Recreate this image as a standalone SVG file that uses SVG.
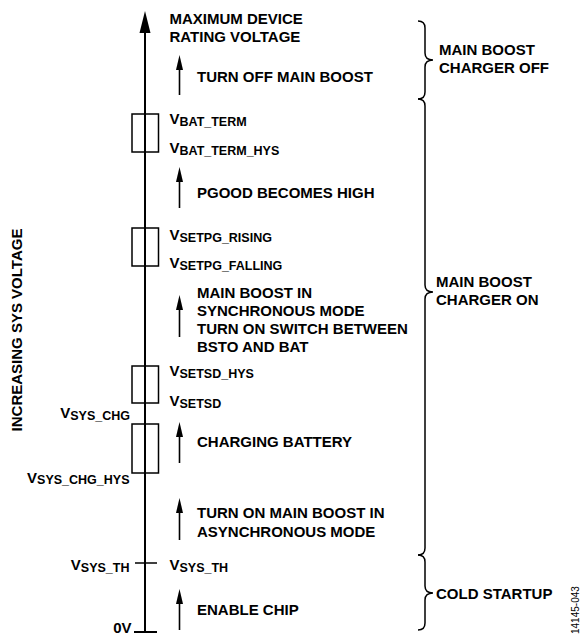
<svg xmlns="http://www.w3.org/2000/svg" width="582" height="636" viewBox="0 0 582 636">
<style>
text{font-family:"Liberation Sans",Arial,sans-serif;font-weight:bold;font-size:15px;fill:#000}
.s{font-size:12.5px}
.ax{stroke:#000;stroke-width:2;fill:none}
.ar{stroke:#000;stroke-width:1.6;fill:none}
.bx{stroke:#000;stroke-width:1.5;fill:none}
.br{stroke:#000;stroke-width:1.5;fill:none}
.id{font-weight:normal;font-size:10px}
</style>
<g id="axis">
<line class="ax" x1="145" y1="632" x2="145" y2="30"/>
<polygon points="145,11 139.5,33 150.5,33" fill="#000"/>
<line class="ax" x1="134" y1="632" x2="157" y2="632"/>
<line class="bx" x1="135" y1="563" x2="157" y2="563"/>
<text x="22" y="330" transform="rotate(-90 22 330)" text-anchor="middle">INCREASING SYS VOLTAGE</text>
</g>
<g id="hysteresis-boxes">
<rect class="bx" x="132" y="114" width="26.5" height="38"/>
<rect class="bx" x="132" y="228" width="26.5" height="38"/>
<rect class="bx" x="132" y="366" width="26.5" height="37"/>
<rect class="bx" x="132" y="424" width="26.5" height="49"/>
</g>
<g id="connectors">
<g id="arr1"><line class="ar" x1="179.5" y1="95" x2="179.5" y2="66"/><polygon points="179.5,55 176,70 183,70"/></g>
<g id="arr2"><line class="ar" x1="179.5" y1="208" x2="179.5" y2="178"/><polygon points="179.5,167 176,182 183,182"/></g>
<g id="arr3"><line class="ar" x1="179.5" y1="337" x2="179.5" y2="306"/><polygon points="179.5,295 176,310 183,310"/></g>
<g id="arr4"><line class="ar" x1="179.5" y1="463" x2="179.5" y2="433"/><polygon points="179.5,422 176,437 183,437"/></g>
<g id="arr5"><line class="ar" x1="179.5" y1="540" x2="179.5" y2="509"/><polygon points="179.5,498 176,513 183,513"/></g>
<g id="arr6"><line class="ar" x1="179.5" y1="630" x2="179.5" y2="600"/><polygon points="179.5,589 176,604 183,604"/></g>
</g>
<g id="labels-right">
<text x="169.5" y="24.3">MAXIMUM DEVICE</text>
<text x="169.5" y="42.3">RATING VOLTAGE</text>
<text x="197" y="82.3">TURN OFF MAIN BOOST</text>
<text x="169.5" y="124.3">V<tspan class="s" dy="1.5">BAT_TERM</tspan></text>
<text x="169.5" y="153.3">V<tspan class="s" dy="1.5">BAT_TERM_HYS</tspan></text>
<text x="197" y="197.5">PGOOD BECOMES HIGH</text>
<text x="169.5" y="240">V<tspan class="s" dy="1.5">SETPG_RISING</tspan></text>
<text x="169.5" y="268.3">V<tspan class="s" dy="1.5">SETPG_FALLING</tspan></text>
<text x="197" y="298.3">MAIN BOOST IN</text>
<text x="197" y="316">SYNCHRONOUS MODE</text>
<text x="197" y="333.7">TURN ON SWITCH BETWEEN</text>
<text x="197" y="351.5">BSTO AND BAT</text>
<text x="169.5" y="376">V<tspan class="s" dy="1.5">SETSD_HYS</tspan></text>
<text x="169.5" y="406">V<tspan class="s" dy="1.5">SETSD</tspan></text>
<text x="197" y="446.7">CHARGING BATTERY</text>
<text x="197" y="518.3">TURN ON MAIN BOOST IN</text>
<text x="197" y="536.5">ASYNCHRONOUS MODE</text>
<text x="169.5" y="570">V<tspan class="s" dy="1.5">SYS_TH</tspan></text>
<text x="197" y="615">ENABLE CHIP</text>
</g>
<g id="labels-left">
<text x="130" y="418.3" text-anchor="end">V<tspan class="s" dy="1.5">SYS_CHG</tspan></text>
<text x="129.5" y="482.7" text-anchor="end">V<tspan class="s" dy="1.5">SYS_CHG_HYS</tspan></text>
<text x="129.5" y="570" text-anchor="end">V<tspan class="s" dy="1.5">SYS_TH</tspan></text>
<text x="131.5" y="632.5" text-anchor="end">0V</text>
</g>
<g id="brace-off">
<path class="br" d="M418,21 Q425,21 425,28 L425,53 Q425,60 433,60 Q425,60 425,67 L425,92 Q425,99 418,99"/>
<text x="439" y="55">MAIN BOOST</text>
<text x="439" y="72.5">CHARGER OFF</text>
</g>
<g id="brace-on">
<path class="br" d="M418,99 Q425,99 425,106 L425,285 Q425,292 433,292 Q425,292 425,299 L425,548 Q425,555 418,555"/>
<text x="436" y="286.7">MAIN BOOST</text>
<text x="436" y="304.5">CHARGER ON</text>
</g>
<g id="brace-cold">
<path class="br" d="M418,555 Q425,555 425,562 L425,586 Q425,593 433,593 Q425,593 425,600 L425,623 Q425,630 418,630"/>
<text x="436" y="599.3">COLD STARTUP</text>
</g>
<text class="id" x="578.5" y="634" transform="rotate(-90 578.5 634)">14145-043</text>
</svg>
